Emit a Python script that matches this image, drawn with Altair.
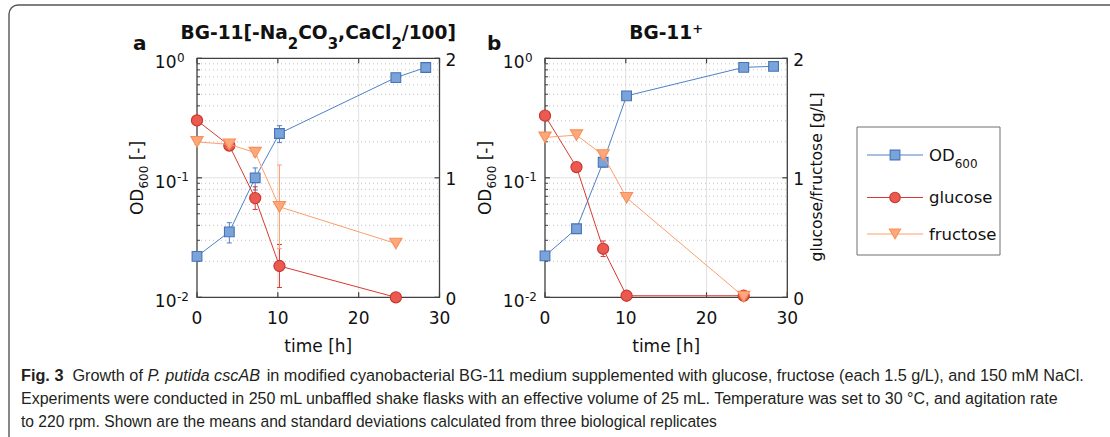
import altair as alt
import pandas as pd

# ---------------- data ----------------
a_time = [0, 4, 7.2, 10.2, 24.6, 28.3]
a_od600 = [0.022, 0.0353, 0.100, 0.235, 0.69, 0.838]
a_od600_sd = [0.001, 0.0068, 0.021, 0.038, 0.012, 0.012]
a_sugar_time = [0, 4, 7.2, 10.2, 24.6]
a_glucose = [1.48, 1.27, 0.83, 0.262, 0.0]
a_glucose_sd = [0.02, 0.03, 0.095, 0.18, 0.0]
a_fructose = [1.30, 1.28, 1.21, 0.757, 0.45]
a_fructose_sd = [0.02, 0.02, 0.03, 0.35, 0.01]

b_time = [0, 3.9, 7.2, 10.1, 24.6, 28.3]
b_od600 = [0.0222, 0.0375, 0.135, 0.485, 0.84, 0.857]
b_od600_sd = [0.0008, 0.0025, 0.012, 0.01, 0.01, 0.01]
b_sugar_time = [0, 3.9, 7.2, 10.1, 24.6]
b_glucose = [1.52, 1.09, 0.406, 0.013, 0.013]
b_glucose_sd = [0.02, 0.02, 0.065, 0.004, 0.004]
b_fructose = [1.338, 1.357, 1.19, 0.833, 0.005]
b_fructose_sd = [0.01, 0.01, 0.02, 0.01, 0.003]

time_ticks = [0, 10, 20, 30]
time_grid = [10, 20]
od_ticks = [0.01, 0.1, 1]
od_tick_exponents = ["-2", "-1", "0"]
od_minor = [0.02, 0.03, 0.04, 0.05, 0.06, 0.07, 0.08, 0.09,
            0.2, 0.3, 0.4, 0.5, 0.6, 0.7, 0.8, 0.9]
sugar_ticks = [0, 1, 2]
series_names = ["OD600", "glucose", "fructose"]

# ---------------- styling ----------------
FONT = "DejaVu Sans"
CAP_FONT = "Liberation Sans"
TXT = "#111111"
AX = "#404040"
BLUE = dict(line="#4f80c6", fill="#79a3d9", edge="#4573b8", shape="square", size=95)
RED = dict(line="#d93a31", fill="#ea5a50", edge="#c9352c", shape="circle", size=125)
ORANGE = dict(line="#fc9f6c", fill="#fca87c", edge="#f98e57", shape="triangle-down", size=150)
Y_BOT, Y_TOP = 297.3, 58.3

DUMMY = pd.DataFrame({"d": [0]})

# glyph advance widths (em) for placing rich-text segments
DJ_BOLD = {'B': .762, 'G': .821, '-': .411, '1': .696, '[': .457, 'N': .837, 'a': .675,
           '2': .696, 'C': .734, 'O': .850, '3': .696, ',': .380, 'l': .343, '/': .365,
           '0': .696, ']': .457, '+': .838}
DJ = {'O': .787, 'D': .770, '6': .636, '0': .636, ' ': .318, '[': .390, '-': .361, ']': .390}
_arial = [278, 278, 355, 556, 556, 889, 667, 191, 333, 333, 389, 584, 278, 333, 278, 278] + [556] * 10 + \
         [278, 278, 584, 584, 584, 556, 1015] + \
         [667, 667, 722, 722, 667, 611, 778, 722, 278, 500, 667, 556, 833, 722, 778, 667, 778, 722, 667,
          611, 722, 667, 944, 667, 667, 611] + [278, 278, 278, 469, 556, 333] + \
         [556, 556, 500, 556, 556, 278, 556, 556, 222, 222, 500, 222, 833, 556, 556, 556, 556, 333, 500,
          278, 556, 500, 722, 500, 500, 500] + [334, 260, 334, 584]
ARIAL = {chr(32 + i): w / 1000 for i, w in enumerate(_arial)}
ARIAL["°"] = 0.4
ARIAL_B = dict(ARIAL, F=.611, i=.278, g=.611)


def width(s, table, size):
    return sum(table.get(c, 0.6) for c in s) * size


def text(s, x, y, size, weight="normal", style="normal", align="left", angle=0,
         font=FONT, color=TXT):
    mk = dict(text=s, fontSize=size, font=font, fontWeight=weight, fontStyle=style,
              align=align, baseline="alphabetic", color=color)
    if angle:
        mk["angle"] = angle
    return alt.Chart(DUMMY).mark_text(**mk).encode(x=alt.value(x), y=alt.value(y))


layers = []

# figure frame (rounded top-left corner)
layers.append(alt.Chart(DUMMY).mark_rect(cornerRadius=9, fill="white", fillOpacity=0,
                                         stroke="#555555", strokeWidth=1.4)
              .encode(x=alt.value(9), x2=alt.value(1190), y=alt.value(5), y2=alt.value(520)))


def panel(x0, x1, time, od, od_sd, stime, glc, glc_sd, fru, fru_sd):
    xs = alt.Scale(domain=[0, 30], range=[x0, x1], nice=False, zero=False)
    ylog = alt.Scale(type="log", domain=[0.01, 1], range=[Y_BOT, Y_TOP], nice=False)
    ylin = alt.Scale(domain=[0, 2], range=[Y_BOT, Y_TOP], nice=False, zero=False)

    def X(f):
        return alt.X(f, type="quantitative", scale=xs, axis=None)

    def YL(f):
        return alt.Y(f, type="quantitative", scale=ylog, axis=None)

    def YS(f):
        return alt.Y(f, type="quantitative", scale=ylin, axis=None)

    out = []
    # grid
    g = pd.DataFrame({"t": time_grid, "lo": 0.01, "hi": 1.0})
    out.append(alt.Chart(g).mark_rule(color="#e2e2e2", strokeWidth=1)
               .encode(x=X("t"), y=YL("lo"), y2="hi"))
    mn = pd.DataFrame({"v": od_minor, "t0": 0, "t1": 30})
    out.append(alt.Chart(mn).mark_rule(color="#bcbcbc", strokeWidth=0.9, strokeDash=[1, 3])
               .encode(x=X("t0"), x2="t1", y=YL("v")))
    mj = pd.DataFrame({"v": [0.1], "t0": 0, "t1": 30})
    out.append(alt.Chart(mj).mark_rule(color="#e2e2e2", strokeWidth=1)
               .encode(x=X("t0"), x2="t1", y=YL("v")))
    # axes box
    box = pd.DataFrame({"t0": [0], "t1": [30], "lo": [0.01], "hi": [1.0]})
    out.append(alt.Chart(box).mark_rect(fill="white", fillOpacity=0, stroke=AX, strokeWidth=1.3)
               .encode(x=X("t0"), x2="t1", y=YL("lo"), y2="hi"))
    # ticks
    tk = pd.DataFrame({"t": time_ticks, "lo": 0.01, "hi": 1.0})
    out.append(alt.Chart(tk).mark_rule(color=AX, strokeWidth=1.2, y2Offset=-5)
               .encode(x=X("t"), y=YL("lo"), y2="lo"))
    out.append(alt.Chart(tk).mark_rule(color=AX, strokeWidth=1.2, y2Offset=5)
               .encode(x=X("t"), y=YL("hi"), y2="hi"))
    out.append(alt.Chart(mn).mark_rule(color=AX, strokeWidth=1, x2Offset=3)
               .encode(x=X("t0"), x2="t0", y=YL("v")))
    odt = pd.DataFrame({"v": od_ticks, "t0": 0, "base": "10", "exp": od_tick_exponents})
    out.append(alt.Chart(odt).mark_rule(color=AX, strokeWidth=1.2, x2Offset=5)
               .encode(x=X("t0"), x2="t0", y=YL("v")))
    st = pd.DataFrame({"v": sugar_ticks, "t1": 30, "label": [str(v) for v in sugar_ticks]})
    out.append(alt.Chart(st).mark_rule(color=AX, strokeWidth=1.2, x2Offset=-5)
               .encode(x=X("t1"), x2="t1", y=YS("v")))
    # tick labels
    xl = pd.DataFrame({"t": time_ticks, "label": [str(t) for t in time_ticks]})
    out.append(alt.Chart(xl).mark_text(font=FONT, fontSize=17, color=TXT, align="center",
                                       baseline="alphabetic")
               .encode(x=X("t"), y=alt.value(323.5), text="label:N"))
    out.append(alt.Chart(odt).mark_text(font=FONT, fontSize=17, color=TXT, align="right",
                                        baseline="alphabetic", dy=10)
               .encode(x=alt.value(x0 - 20.5), y=YL("v"), text="base:N"))
    out.append(alt.Chart(odt).mark_text(font=FONT, fontSize=12, color=TXT, align="left",
                                        baseline="alphabetic", dy=3.5)
               .encode(x=alt.value(x0 - 20), y=YL("v"), text="exp:N"))
    out.append(alt.Chart(st).mark_text(font=FONT, fontSize=17, color=TXT, align="left",
                                       baseline="alphabetic", dy=7.5)
               .encode(x=alt.value(x1 + 6), y=YS("v"), text="label:N"))

    # data series
    def series(times, vals, sds, Y, st):
        df = pd.DataFrame({"t": times, "v": vals, "sd": sds})
        df["lo"] = df["v"] - df["sd"]
        df["hi"] = df["v"] + df["sd"]
        e = df[df["sd"] > 0]
        res = [
            alt.Chart(e).mark_rule(color=st["line"], strokeWidth=1)
            .encode(x=X("t"), y=Y("lo"), y2="hi"),
            alt.Chart(e).mark_rule(color=st["line"], strokeWidth=1, xOffset=-2.5, x2Offset=2.5)
            .encode(x=X("t"), x2="t", y=Y("hi")),
            alt.Chart(e).mark_rule(color=st["line"], strokeWidth=1, xOffset=-2.5, x2Offset=2.5)
            .encode(x=X("t"), x2="t", y=Y("lo")),
            alt.Chart(df).mark_line(color=st["line"], strokeWidth=1)
            .encode(x=X("t"), y=Y("v")),
            alt.Chart(df).mark_point(shape=st["shape"], size=st["size"], filled=True,
                                     fill=st["fill"], stroke=st["edge"], strokeWidth=1.1,
                                     opacity=1, fillOpacity=1)
            .encode(x=X("t"), y=Y("v")),
        ]
        return res

    out += series(time, od, od_sd, YL, BLUE)
    out += series(stime, glc, glc_sd, YS, RED)
    out += series(stime, fru, fru_sd, YS, ORANGE)
    return out


PA = (197, 439.5)
PB = (545, 787.3)
layers += panel(PA[0], PA[1], a_time, a_od600, a_od600_sd, a_sugar_time, a_glucose, a_glucose_sd,
                a_fructose, a_fructose_sd)
layers += panel(PB[0], PB[1], b_time, b_od600, b_od600_sd, b_sugar_time, b_glucose, b_glucose_sd,
                b_fructose, b_fructose_sd)

# ---------------- legend ----------------
layers.append(alt.Chart(DUMMY).mark_rect(fill="white", stroke="#6e6e6e", strokeWidth=1)
              .encode(x=alt.value(857), x2=alt.value(1000), y=alt.value(127), y2=alt.value(255)))
leg = pd.DataFrame({"name": series_names, "slot": [0, 1, 2]})
yleg = alt.Scale(domain=[0, 1, 2], range=[155, 197.5, 234])
styles = [BLUE, RED, ORANGE]
line_scale = alt.Scale(domain=series_names, range=[s["line"] for s in styles])
layers.append(alt.Chart(leg).mark_rule(strokeWidth=1.2)
              .encode(x=alt.value(867), x2=alt.value(923),
                      y=alt.Y("slot:Q", scale=yleg, axis=None),
                      color=alt.Color("name:N", scale=line_scale, legend=None)))
layers.append(alt.Chart(leg).mark_point(filled=True, opacity=1, strokeWidth=1.1)
              .encode(x=alt.value(895), y=alt.Y("slot:Q", scale=yleg, axis=None),
                      fill=alt.Fill("name:N", scale=alt.Scale(domain=series_names,
                                                              range=[s["fill"] for s in styles]),
                                    legend=None),
                      stroke=alt.Stroke("name:N", scale=alt.Scale(domain=series_names,
                                                                  range=[s["edge"] for s in styles]),
                                        legend=None),
                      shape=alt.Shape("name:N", scale=alt.Scale(domain=series_names,
                                                                range=[s["shape"] for s in styles]),
                                      legend=None),
                      size=alt.Size("name:O", scale=alt.Scale(domain=series_names,
                                                              range=[s["size"] for s in styles]),
                                    legend=None)))
layers.append(text("OD", 929, 160.5, 16.5))
layers.append(text("600", 929 + width("OD", DJ, 16.5), 168, 12))
layers.append(text("glucose", 929, 203, 16.5))
layers.append(text("fructose", 929, 239.5, 16.5))

# ---------------- panel letters and titles ----------------
layers.append(text("a", 133, 50, 20, weight="bold"))
layers.append(text("b", 487, 50, 20, weight="bold"))

MAIN, SUB = 18.6, 15
title_a = [("BG-11[-Na", 0), ("2", 1), ("CO", 0), ("3", 1), (",CaCl", 0), ("2", 1), ("/100]", 0)]
tot = sum(width(s, DJ_BOLD, SUB if k else MAIN) for s, k in title_a)
xx = (PA[0] + PA[1]) / 2 - tot / 2
for s, k in title_a:
    sz = SUB if k else MAIN
    layers.append(text(s, xx, 39 + (10 if k else 0), sz, weight="bold"))
    xx += width(s, DJ_BOLD, sz)
wb = width("BG-11", DJ_BOLD, MAIN)
wp = width("+", DJ_BOLD, 13)
xx = (PB[0] + PB[1]) / 2 - (wb + wp) / 2
layers.append(text("BG-11", xx, 39, MAIN, weight="bold"))
layers.append(text("+", xx + wb, 33, 13, weight="bold"))

# ---------------- axis titles ----------------
for x0, x1 in (PA, PB):
    layers.append(text("time [h]", (x0 + x1) / 2, 352, 17, align="center"))
    segs = [("OD", 17, 0), ("600", 12, 5), ("[-]", 17, 0)]
    lens = [width(s, DJ, sz) for s, sz, _ in segs]
    gap = 0.318 * 17
    total = sum(lens) + gap
    yy = 178 + total / 2
    for i, (s, sz, sh) in enumerate(segs):
        layers.append(text(s, x0 - 54 + sh, yy, sz, angle=270))
        yy -= lens[i] + (gap if i == 1 else 0)
layers.append(text("glucose/fructose [g/L]", 822, 177, 15.5, align="center", angle=270))

# ---------------- caption ----------------
cap1_bold = "Fig. 3"
cap1_a = "Growth of"
cap1_it = "P. putida cscAB"
cap1_b = ("in modified cyanobacterial BG-11 medium supplemented with glucose, fructose "
          "(each 1.5 g/L), and 150 mM NaCl.")
cap2 = ("Experiments were conducted in 250 mL unbaffled shake flasks with an effective volume "
        "of 25 mL. Temperature was set to 30 °C, and agitation rate")
cap3 = ("to 220 rpm. Shown are the means and standard deviations calculated from three "
        "biological replicates")
CAPC = "#231f20"
LEFT = 21
# each caption line is sized to span the same extent as in the printed figure
line1_em = (width(cap1_bold, ARIAL_B, 1) + 4 * ARIAL[" "] + width(cap1_a, ARIAL, 1)
            + width(cap1_it, ARIAL, 1) + width(cap1_b, ARIAL, 1))
S1 = (1085 - LEFT) / line1_em
S2 = (1062 - LEFT) / width(cap2, ARIAL, 1)
S3 = (717 - LEFT) / width(cap3, ARIAL, 1)
sp = ARIAL[" "] * S1
xx = LEFT
layers.append(text(cap1_bold, xx, 381, S1, weight="bold", font=CAP_FONT, color=CAPC))
xx += width(cap1_bold, ARIAL_B, S1) + 2 * sp
layers.append(text(cap1_a, xx, 381, S1, font=CAP_FONT, color=CAPC))
xx += width(cap1_a, ARIAL, S1) + sp
layers.append(text(cap1_it, xx, 381, S1, style="italic", font=CAP_FONT, color=CAPC))
xx += width(cap1_it, ARIAL, S1) + sp
layers.append(text(cap1_b, xx, 381, S1, font=CAP_FONT, color=CAPC))
layers.append(text(cap2, LEFT, 404, S2, font=CAP_FONT, color=CAPC))
layers.append(text(cap3, LEFT, 427, S3, font=CAP_FONT, color=CAPC))

chart = (
    alt.layer(*layers)
    .resolve_scale(x="independent", y="independent", color="independent", fill="independent",
                   stroke="independent", shape="independent", size="independent")
    .properties(width=1110, height=437, autosize=alt.AutoSizeParams(type="none"), padding=0,
                background="white")
    .configure_view(stroke=None)
)

chart.save("out.html", embed_options={"renderer": "svg", "actions": False})
